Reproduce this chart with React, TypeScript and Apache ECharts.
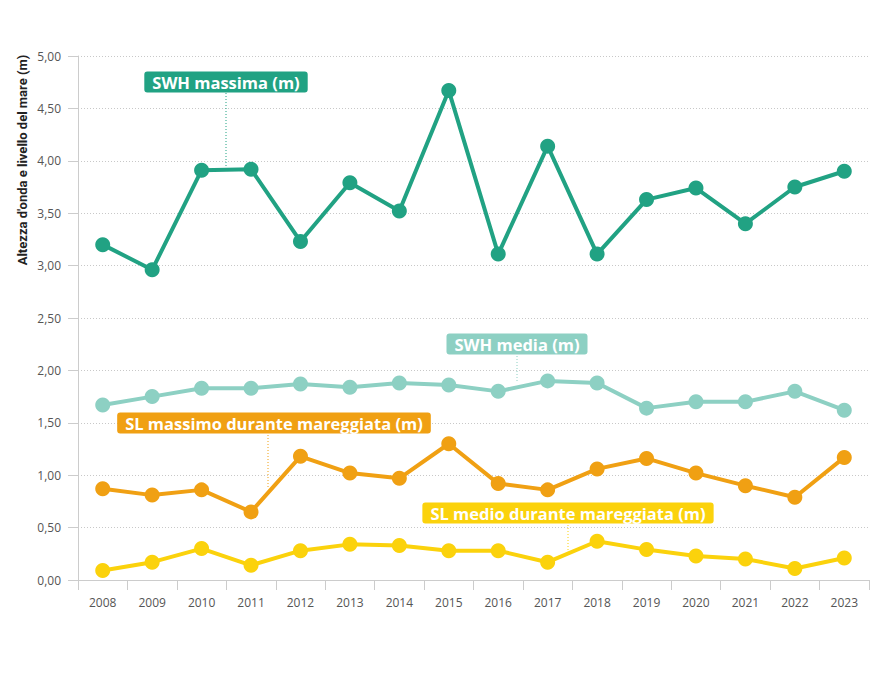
import React, { useEffect, useRef } from "react";
import * as echarts from "echarts";

const years = ["2008","2009","2010","2011","2012","2013","2014","2015","2016","2017","2018","2019","2020","2021","2022","2023"];
const swhMax = [3.20, 2.96, 3.91, 3.92, 3.23, 3.79, 3.52, 4.67, 3.11, 4.14, 3.11, 3.63, 3.74, 3.40, 3.75, 3.90];
const swhMean = [1.67, 1.75, 1.83, 1.83, 1.87, 1.84, 1.88, 1.86, 1.80, 1.90, 1.88, 1.64, 1.70, 1.70, 1.80, 1.62];
const slMax = [0.87, 0.81, 0.86, 0.65, 1.18, 1.02, 0.97, 1.30, 0.92, 0.86, 1.06, 1.16, 1.02, 0.90, 0.79, 1.17];
const slMean = [0.09, 0.17, 0.30, 0.14, 0.28, 0.34, 0.33, 0.28, 0.28, 0.17, 0.37, 0.29, 0.23, 0.20, 0.11, 0.21];

const names = ["SWH massima (m)", "SWH media (m)", "SL massimo durante mareggiata (m)", "SL medio durante mareggiata (m)"];
const colors = ["#21a283", "#8dd0c3", "#f0a013", "#fbd20c"];

export default function App() {
  const ref = useRef<HTMLDivElement>(null);
  useEffect(() => {
    const chart = echarts.init(ref.current!, null, { renderer: "svg" });
    const mk = (name: string, data: number[], color: string) => ({
      name,
      type: "line",
      data,
      symbol: "circle",
      symbolSize: 15,
      lineStyle: { width: 4, color },
      itemStyle: { color },
    });
    const boxes = [
      { text: names[0], x: 226, y: 82, color: colors[0], lx: 226, y1: 93, y2: 168 },
      { text: names[1], x: 517, y: 344, color: colors[1], lx: 517, y1: 356, y2: 383 },
      { text: names[2], x: 274, y: 423, color: colors[2], lx: 268, y1: 435, y2: 487 },
      { text: names[3], x: 568, y: 513, color: colors[3], lx: 568, y1: 525, y2: 550 },
    ];
    const graphic: any[] = [];
    boxes.forEach((b) => {
      graphic.push({
        type: "line",
        z: 1,
        shape: { x1: b.lx, y1: b.y1, x2: b.lx, y2: b.y2 },
        style: { stroke: b.color, lineWidth: 1, lineDash: [1, 2] },
      });
      graphic.push({
        type: "text",
        z: 10,
        x: b.x,
        y: b.y,
        style: {
          text: b.text,
          fill: "#ffffff",
          font: "bold 16.5px 'Open Sans'",
          align: "center",
          verticalAlign: "middle",
          backgroundColor: b.color,
          padding: [2, 8, 2, 8],
          borderRadius: 3,
        },
      });
    });
    graphic.push({
      type: "text",
      x: 22,
      y: 160,
      rotation: Math.PI / 2,
      style: {
        text: "Altezza d'onda e livello del mare (m)",
        fill: "#222",
        font: "bold 13px Roboto",
        align: "center",
        verticalAlign: "middle",
      },
    });
    chart.setOption({
      animation: false,
      backgroundColor: "#ffffff",
      grid: { left: 78, right: 13, top: 56, bottom: 102 },
      xAxis: {
        type: "category",
        data: years,
        boundaryGap: true,
        axisLine: { lineStyle: { color: "#cccccc", width: 1 } },
        axisTick: { show: true, length: 10, lineStyle: { color: "#cccccc" } },
        axisLabel: { color: "#555", fontSize: 12, fontFamily: "Open Sans", margin: 16 },
      },
      yAxis: {
        type: "value",
        min: 0,
        max: 5,
        interval: 0.5,
        axisLine: { show: true, lineStyle: { color: "#cccccc", width: 1 } },
        axisTick: { show: true, length: 10, lineStyle: { color: "#cccccc" } },
        axisLabel: {
          color: "#555",
          fontSize: 12,
          fontFamily: "Open Sans",
          margin: 17,
          formatter: (v: number) => v.toFixed(2).replace(".", ","),
        },
        splitLine: { show: true, lineStyle: { color: "#c8c8c8", type: [1, 2], width: 1 } },
      },
      series: [
        mk(names[0], swhMax, colors[0]),
        mk(names[1], swhMean, colors[1]),
        mk(names[2], slMax, colors[2]),
        mk(names[3], slMean, colors[3]),
      ],
      graphic,
    });
    return () => chart.dispose();
  }, []);
  return <div ref={ref} style={{ width: 882, height: 682, position: "absolute", left: 0, top: 0 }} />;
}
